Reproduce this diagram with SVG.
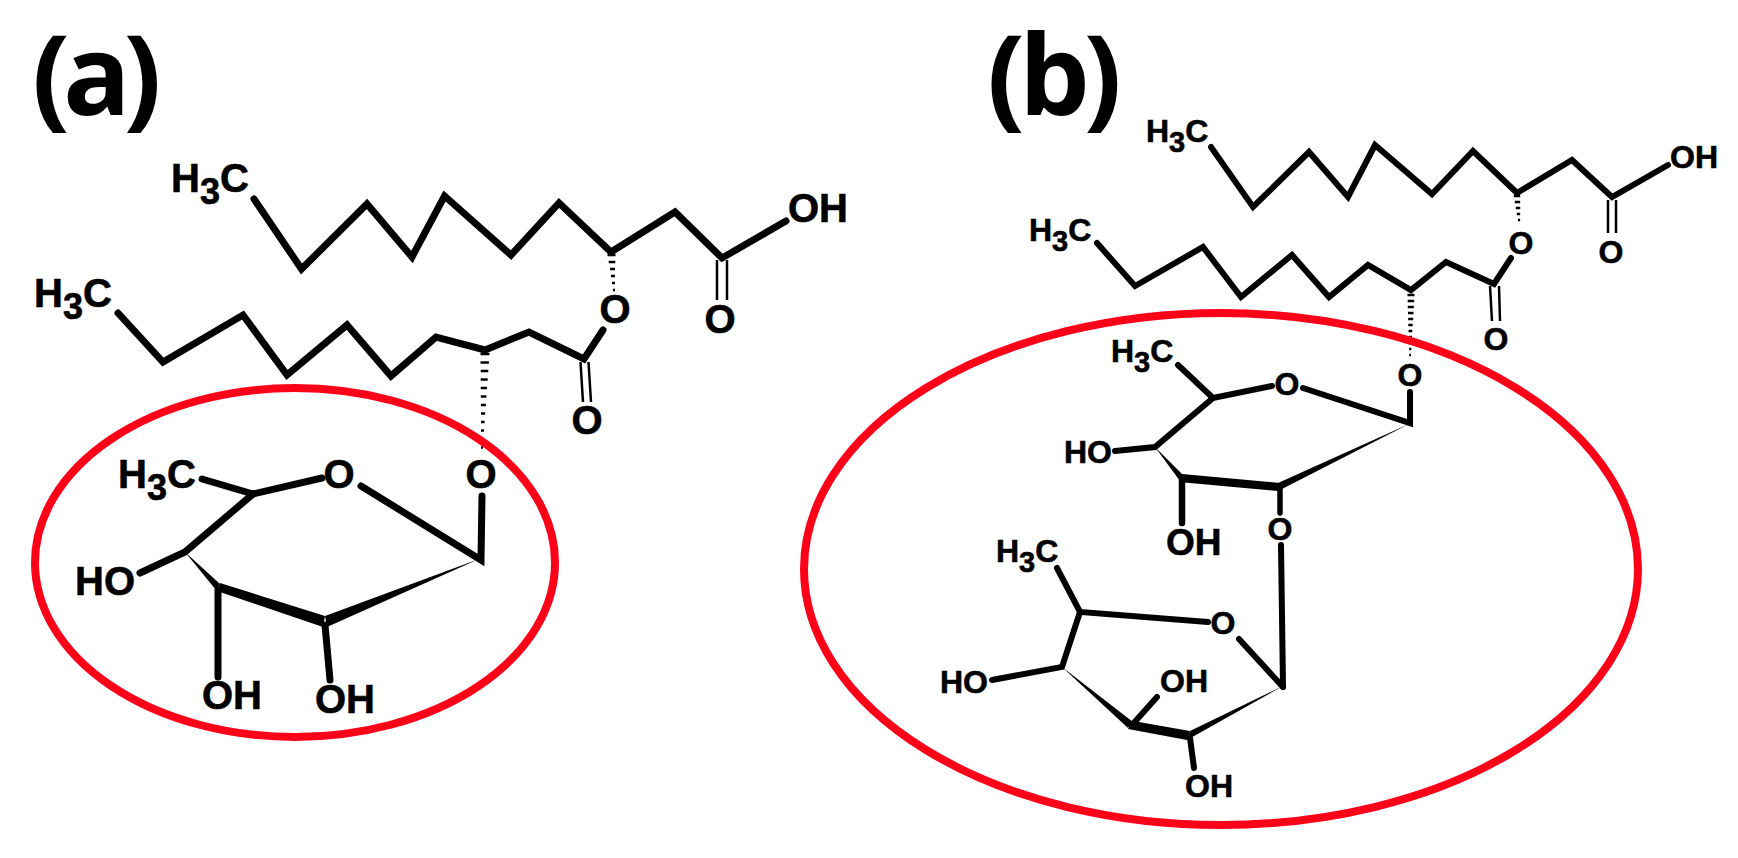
<svg xmlns="http://www.w3.org/2000/svg" width="1738" height="858" viewBox="0 0 1738 858">
<style>
text{font-family:"Liberation Sans",Arial,sans-serif;font-weight:700;fill:#000}
.a,.b,.bb{stroke:#000;stroke-width:.6}
.a{font-size:40px}.b{font-size:32px}.bb{font-size:37px}
.h{font-family:"Open Sans","Liberation Sans",sans-serif;font-size:112px}
.m{text-anchor:middle}
.l{fill:none;stroke:#000;stroke-linecap:round;stroke-linejoin:miter}
.w6{stroke-width:7}.w5{stroke-width:6}.w3{stroke-width:2.5;stroke-linecap:butt}
.f{fill:#000}
.r{fill:none;stroke:#ff0019;stroke-width:8}
.d{fill:none;stroke:#000;stroke-width:2.6}
</style>
<rect width="1738" height="858" fill="#fff"/>
<g id="label-a"><text class="h" x="32" y="115" letter-spacing="-7">(a)</text></g>
<g id="label-b"><text class="h" x="987" y="115" letter-spacing="-6">(b)</text></g>
<g id="bonds">
<!-- a chains -->
<polyline class="l w6" points="254,199 301.5,269 367,204 412,257 444.5,196 511,255 559,203 611,252 675,212 722,258 786,221"/>
<path class="l w3" d="M717,260V300M727,260V300"/>
<path class="d" d="M607.5,255H615.5M608.7,262H615.3M610,269H615M611,276H615M612,283H615M613,290H615"/>
<polyline class="l w6" points="118,313 163,362 243,315 287,375 347,325 391,376 436,337 485,350 529,332 584,359 603,330"/>
<path class="l w3" d="M580.5,362L583,402M588.5,362L591,402"/>
<path class="d" d="M480.5,354H489.5M480.5,362.5H488.9M480.7,371H488.3M480.7,379.5H487.7M480.7,388H487M480.8,396.5H486.4M480.9,405H485.9M481,413.5H485.2M481,422H484.6M481,430.5H484M481.1,439H483.5M481,447.5H483"/>
<!-- a ring -->
<polyline class="l w6" points="482,496 481,560 361,486"/>
<polyline class="l w6" points="322,478 253,494 202,479"/>
<polyline class="l w6" points="253,494 185,552 140,573"/>
<polygon class="f" points="185,552 220,584 216,590"/>
<polygon class="f" points="220,583 325,616 323,627 217,591"/>
<polygon class="f" points="325,616 479,559 327,627"/>
<path class="l" stroke-width="7" d="M218,590V677"/>
<path class="l" stroke-width="7" d="M325,625L330,680"/>
<!-- b chains -->
<polyline class="l w5" points="1211,147 1253,207 1309,152 1348,197 1375,145 1432,194 1473,151 1517,193 1572,160 1612,197 1668,165"/>
<path class="l w3" d="M1608,200V233M1616,200V233"/>
<path class="d" d="M1513.8,196H1520.2M1514.8,202H1520.2M1515.8,208H1520.2M1516.8,214H1520.2M1517.9,220H1520.1"/>
<polyline class="l w5" points="1097,243 1135,286 1203,247 1241,297 1292,255 1329,297 1368,265 1411,290 1446,262 1494,284 1511,258"/>
<path class="l w3" d="M1490,286L1492,321M1499,286L1500,321"/>
<path class="d" d="M1407.5,295H1414.5M1407.7,301H1414.2M1407.8,307H1413.8M1408,313H1413.5M1408.2,319H1413.2M1408.3,325H1412.7M1408.5,331H1412.3M1408.8,337H1412M1409,343H1411.6M1409.2,349H1411.3M1409.2,355H1411"/>
<!-- b ring 1 -->
<polyline class="l w5" points="1178,365 1213,398 1272,386"/>
<polyline class="l w5" points="1213,398 1155,447 1115,451"/>
<polyline class="l w5" points="1303,388 1410,423 1410,392"/>
<polygon class="f" points="1155,447 1183,475 1180,481"/>
<polygon class="f" points="1182,474 1280,483 1278,491 1179,482"/>
<polygon class="f" points="1278,483 1409,424 1280,490"/>
<path class="l" stroke-width="6.5" d="M1182,480V523"/>
<path class="l" stroke-width="5.5" d="M1280,488V513"/>
<path class="l" stroke-width="6" d="M1281,545L1283,687"/>
<!-- b ring 2 -->
<polyline class="l w5" points="1057,568 1080,612 1208,622"/>
<polyline class="l w5" points="1080,612 1062,667 992,680"/>
<path class="l w5" d="M1239,639L1283,687"/>
<polygon class="f" points="1062,667 1133,722 1128,728"/>
<path class="l w5" d="M1132,725L1157,697"/>
<polygon class="f" points="1133,721 1190,731 1187,740 1128,729"/>
<polygon class="f" points="1190,731 1283,686 1187,740"/>
<path class="l" stroke-width="6" d="M1190,738L1194,768"/>
</g>
<g id="ellipse-a"><ellipse class="r" cx="295" cy="562.5" rx="260" ry="174.5"/></g>
<g id="ellipse-b"><ellipse class="r" cx="1221" cy="569" rx="417" ry="256"/></g>
<g id="labels-a">
<text class="a" x="171" y="192">H<tspan dy="12" font-size="36">3</tspan><tspan dy="-12">C</tspan></text>
<text class="a" x="34" y="307">H<tspan dy="12" font-size="36">3</tspan><tspan dy="-12">C</tspan></text>
<text class="a" x="118" y="488">H<tspan dy="12" font-size="36">3</tspan><tspan dy="-12">C</tspan></text>
<text class="a" x="788" y="222">OH</text>
<text class="a m" x="720" y="333">O</text>
<text class="a m" x="615" y="323">O</text>
<text class="a m" x="587" y="434">O</text>
<text class="a m" x="339" y="488">O</text>
<text class="a m" x="481" y="488">O</text>
<text class="a" x="75" y="595">HO</text>
<text class="a m" x="232" y="709">OH</text>
<text class="a m" x="345" y="713">OH</text>
</g>
<g id="labels-b">
<text class="b" x="1146" y="142">H<tspan dy="10" font-size="29">3</tspan><tspan dy="-10">C</tspan></text>
<text class="b" x="1029" y="241">H<tspan dy="10" font-size="29">3</tspan><tspan dy="-10">C</tspan></text>
<text class="b" x="1111" y="362">H<tspan dy="10" font-size="29">3</tspan><tspan dy="-10">C</tspan></text>
<text class="b" x="996" y="562">H<tspan dy="10" font-size="29">3</tspan><tspan dy="-10">C</tspan></text>
<text class="b" x="1670" y="168">OH</text>
<text class="b m" x="1611" y="263">O</text>
<text class="b m" x="1521" y="254">O</text>
<text class="b m" x="1496" y="350">O</text>
<text class="b m" x="1410" y="386">O</text>
<text class="b m" x="1287" y="395">O</text>
<text class="b" x="1064" y="463">HO</text>
<text class="bb" x="1166" y="555">OH</text>
<text class="b m" x="1280" y="540">O</text>
<text class="b m" x="1223" y="634">O</text>
<text class="b" x="940" y="693">HO</text>
<text class="b" x="1160" y="692">OH</text>
<text class="b" x="1185" y="797">OH</text>
</g>
</svg>
